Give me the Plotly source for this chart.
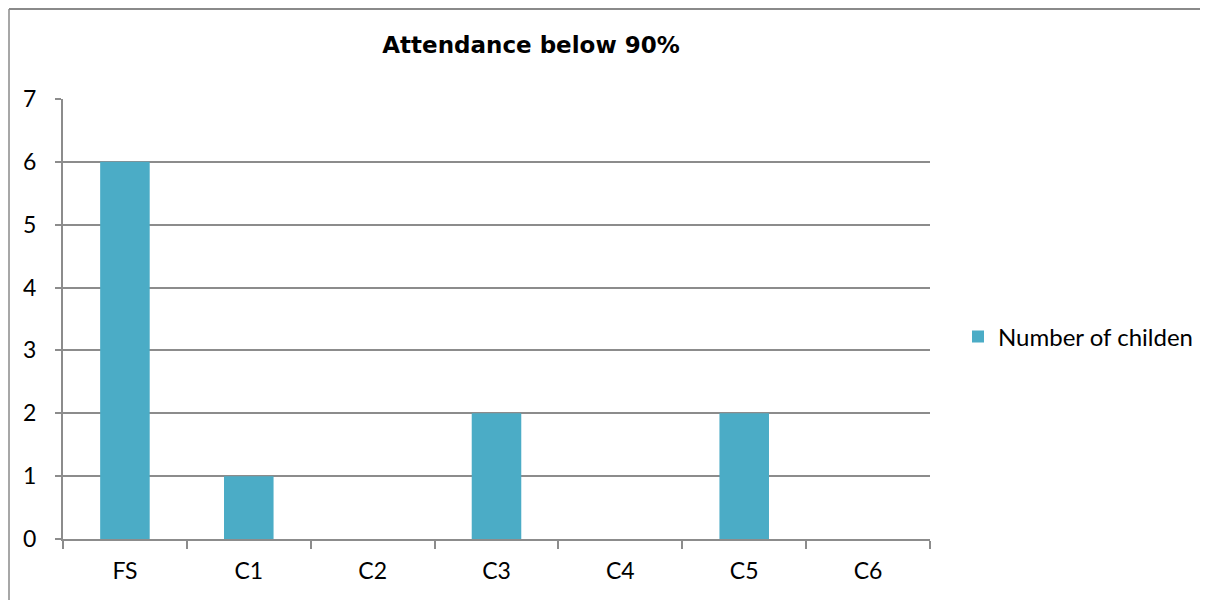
import plotly.graph_objects as go

categories = ["FS", "C1", "C2", "C3", "C4", "C5", "C6"]
values = [6, 1, 0, 2, 0, 2, 0]
series_name = "Number of childen"
y_ticks = [0, 1, 2, 3, 4, 5, 6, 7]

# page body has an 8px margin; work in reference coords shifted by 8px
OFF = 8
W, H = 1208 - OFF, 600 - OFF
L, R, T, B = 63 - OFF, 1208 - 930, 99 - OFF, 600 - 539
pw, ph = W - L - R, H - T - B

def px(x):
    return (x - OFF - L) / pw

def py(y):
    return (H - B - (y - OFF)) / ph

grid = "#8c8c8c"
border = "#8a8a8a"
fig = go.Figure()
fig.add_trace(go.Bar(x=categories, y=values, name=series_name,
                     marker=dict(color="#4BACC6", line=dict(width=0)),
                     showlegend=True))

fig.update_layout(
    width=W, height=H,
    margin=dict(l=L, r=R, t=T, b=B, autoexpand=False),
    paper_bgcolor="white", plot_bgcolor="white",
    bargap=0.6,
    font=dict(family="Lato, Carlito, sans-serif", size=23, color="#000000"),
    title=dict(text="<b>Attendance below 90%</b>", x=px(531), xref="paper", xanchor="center",
               y=1 - (45 - OFF) / H, yref="container", yanchor="middle",
               font=dict(family="DejaVu Sans", size=23, color="#000000")),
    showlegend=True,
    legend=dict(x=px(958), y=py(337), xanchor="left", yanchor="middle",
                xref="paper", yref="paper", bgcolor="rgba(0,0,0,0)",
                font=dict(size=24), itemwidth=30),
    xaxis=dict(type="category", showgrid=False, showline=True, linecolor=grid, linewidth=2,
               ticks="outside", tickson="boundaries", ticklen=8, tickcolor=grid, tickwidth=2,
               ticklabelstandoff=10, fixedrange=True),
    yaxis=dict(range=[0, 7], tickvals=y_ticks, showgrid=True, gridcolor=grid, gridwidth=2,
               showline=True, linecolor=grid, linewidth=2, zeroline=False,
               ticks="outside", ticklen=6, tickcolor=grid, tickwidth=2,
               ticklabelstandoff=14, fixedrange=True),
    shapes=[
        dict(type="line", xref="paper", yref="paper",
             x0=px(9), x1=px(1208), y0=py(9), y1=py(9),
             line=dict(color=border, width=2), layer="below"),
        dict(type="line", xref="paper", yref="paper",
             x0=px(9), x1=px(9), y0=py(9), y1=py(600),
             line=dict(color=border, width=1.5), layer="below"),
    ],
)

fig.write_html("out.html")
